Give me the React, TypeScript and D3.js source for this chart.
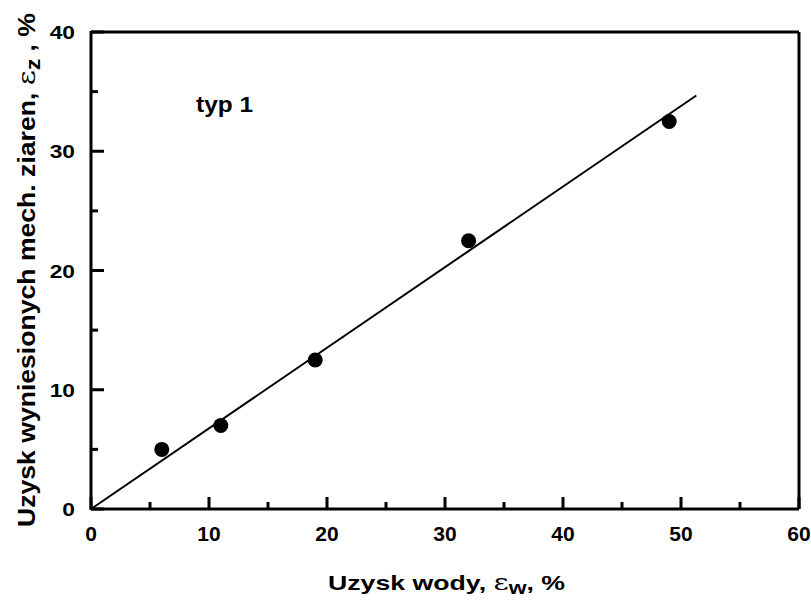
import * as d3 from 'd3'

const xVals = [6, 11, 19, 32, 49]
const yVals = [5, 7, 12.5, 22.5, 32.5]
const fitX = [0, 51.3]
const fitSlope = 0.676
const xTicks = [0, 10, 20, 30, 40, 50, 60]
const yTicks = [0, 10, 20, 30, 40]
const xMinor = [5, 15, 25, 35, 45, 55]
const yMinor = [5, 15, 25, 35]

const W = 811
const H = 600
const m = { left: 91, right: 12, top: 32, bottom: 91 }

export default function App() {
  const x = d3.scaleLinear().domain([0, 60]).range([m.left, W - m.right])
  const y = d3.scaleLinear().domain([0, 40]).range([H - m.bottom, m.top])
  const line = d3
    .line<number>()
    .x(d => x(d))
    .y(d => y(d * fitSlope))
  const font = 'Arial, "Liberation Sans", sans-serif'
  const x0 = x(0)
  const y0 = y(0)

  return (
    <svg
      width={W}
      height={H}
      style={{ position: 'absolute', left: 0, top: 0 }}
      fontFamily={font}
      fontWeight="bold"
    >
      <rect width={W} height={H} fill="#fff" />
      {/* frame */}
      <line x1={x0} x2={x(60)} y1={y(40)} y2={y(40)} stroke="#000" strokeWidth={3} />
      <line x1={x(60)} x2={x(60)} y1={y(40)} y2={y0} stroke="#000" strokeWidth={3} />
      <line x1={x0} x2={x0} y1={y(40) - 1} y2={y0 + 1} stroke="#000" strokeWidth={3} />
      <line x1={x0} x2={x(60)} y1={y0} y2={y0} stroke="#000" strokeWidth={3} />

      {xTicks.map(t => (
        <g key={'x' + t}>
          <line x1={x(t)} x2={x(t)} y1={y0} y2={y0 - 12} stroke="#000" strokeWidth={3} />
          <text x={x(t)} y={y0 + 32} textAnchor="middle" fontSize={21}>
            {t}
          </text>
        </g>
      ))}
      {xMinor.map(t => (
        <line key={'xm' + t} x1={x(t)} x2={x(t)} y1={y0} y2={y0 - 7} stroke="#000" strokeWidth={3} />
      ))}
      {yTicks.map(t => (
        <g key={'y' + t}>
          <line x1={x0} x2={x0 + 13} y1={y(t)} y2={y(t)} stroke="#000" strokeWidth={3} />
          <text
            transform={`translate(${x0 - 16}, ${y(t) + 7}) scale(1.2, 1)`}
            textAnchor="end"
            fontSize={19}
          >
            {t}
          </text>
        </g>
      ))}
      {yMinor.map(t => (
        <line key={'ym' + t} x1={x0} x2={x0 + 7} y1={y(t)} y2={y(t)} stroke="#000" strokeWidth={3} />
      ))}

      <path d={line(fitX) ?? ''} fill="none" stroke="#000" strokeWidth={2} />
      {xVals.map((v, i) => (
        <circle key={i} cx={x(v)} cy={y(yVals[i])} r={7.5} fill="#000" />
      ))}

      <text x={196} y={112} fontSize={22} textLength={57} lengthAdjust="spacingAndGlyphs">
        typ 1
      </text>

      <text
        x={328}
        y={590}
        fontSize={21}
        textLength={237}
        lengthAdjust="spacingAndGlyphs"
      >
        Uzysk wody,{' '}
        <tspan fontFamily='"DejaVu Serif", serif' fontWeight="normal" fontSize={23}>ε</tspan>
        <tspan dy={4} fontSize={18}>w</tspan>
        <tspan dy={-4}>, %</tspan>
      </text>

      <text
        transform="translate(35, 527) rotate(-90)"
        fontSize={23}
        textLength={514}
        lengthAdjust="spacingAndGlyphs"
      >
        Uzysk wyniesionych mech. ziaren,{' '}
        <tspan fontFamily='"DejaVu Serif", serif' fontWeight="normal" fontSize={25}>ε</tspan>
        <tspan dy={5} fontSize={20}>z</tspan>
        <tspan dy={-5}> , %</tspan>
      </text>
    </svg>
  )
}
